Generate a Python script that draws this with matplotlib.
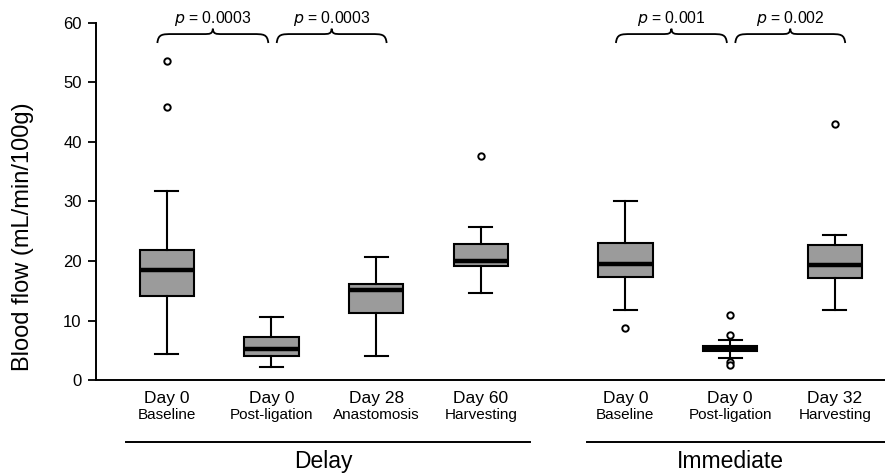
import matplotlib
matplotlib.use('Agg')
from matplotlib import pyplot as plt
from matplotlib.path import Path
from matplotlib.patches import PathPatch
import matplotlib.transforms as mtransforms

plt.rcParams['font.family'] = ['Liberation Sans', 'DejaVu Sans']

# Box statistics (mL/min/100g)
days = ['Day 0', 'Day 0', 'Day 28', 'Day 60', 'Day 0', 'Day 0', 'Day 32']
phases = ['Baseline', 'Post-ligation', 'Anastomosis', 'Harvesting',
          'Baseline', 'Post-ligation', 'Harvesting']
whislo = [4.4, 2.2, 4.0, 14.7, 11.7, 3.8, 11.8]
q1 = [14.1, 4.0, 11.2, 19.1, 17.4, 4.85, 17.2]
med = [18.5, 5.3, 15.2, 20.0, 19.5, 5.2, 19.3]
q3 = [21.8, 7.3, 16.1, 22.9, 23.1, 5.65, 22.7]
whishi = [31.7, 10.6, 20.6, 25.7, 30.0, 6.7, 24.3]
fliers = [[53.5, 45.8], [], [], [37.6], [8.8], [11.0, 7.6, 3.1, 2.6], [43.0]]
positions = [1, 2, 3, 4, 5.38, 6.38, 7.38]

groups = ['Delay', 'Immediate']
group_members = [[0, 1, 2, 3], [4, 5, 6]]

# pairwise comparisons: (box a, box b, label)
pairs = [(0, 1, '0.0003'), (1, 2, '0.0003'), (4, 5, '0.001'), (5, 6, '0.002')]

fig = plt.figure(figsize=(8.85, 4.74), dpi=100)
ax = fig.add_axes([0.108, 0.198, 0.892, 0.754])

stats = []
for i in range(len(med)):
    stats.append(dict(med=med[i], q1=q1[i], q3=q3[i], whislo=whislo[i],
                      whishi=whishi[i], fliers=fliers[i]))

ax.bxp(stats, positions=positions, widths=0.52, capwidths=0.22,
       patch_artist=True,
       boxprops=dict(facecolor='#9b9b9b', edgecolor='black', linewidth=1.5),
       medianprops=dict(color='black', linewidth=3.2, solid_capstyle='butt'),
       whiskerprops=dict(color='black', linewidth=1.5),
       capprops=dict(color='black', linewidth=1.5),
       flierprops=dict(marker='o', markerfacecolor='white', markeredgecolor='black',
                       markersize=4.6, markeredgewidth=1.4, linestyle='none'))

ax.set_xlim(0.32, 7.86)
ax.set_ylim(0, 60)
ax.set_yticks(range(0, 61, 10))
ax.tick_params(axis='y', length=6, width=1.3, labelsize=12, pad=4)
ax.tick_params(axis='x', length=0, labelbottom=False)
for s in ['top', 'right']:
    ax.spines[s].set_visible(False)
for s in ['left', 'bottom']:
    ax.spines[s].set_linewidth(1.4)

fig.text(23 / 885, 0.5, 'Blood flow (mL/min/100g)', rotation=90,
         ha='center', va='center', fontsize=17)

trans = mtransforms.blended_transform_factory(ax.transData, ax.transAxes)
for p, d, ph in zip(positions, days, phases):
    ax.text(p, -0.05, d, transform=trans, ha='center', va='center', fontsize=12.5)
    ax.text(p, -0.097, ph, transform=trans, ha='center', va='center', fontsize=11)

# group underlines and names
line_ext = [(0.615, 4.467), (5.014, 7.86)]
for g, members, (a, b) in zip(groups, group_members, line_ext):
    ax.plot([a, b], [-0.173, -0.173], transform=trans, color='black', lw=1.4,
            clip_on=False)
    xc = sum(positions[m] for m in members) / len(members)
    ax.text(xc, -0.227, g, transform=trans, ha='center', va='center', fontsize=16.5)


def brace(x0, x1, y_end=56.6, y_flat=58.1, y_tip=59.0, d=0.15, dt=0.09):
    xm = (x0 + x1) / 2
    verts = [(x0, y_end), (x0 + 0.01, y_flat), (x0 + d * 0.3, y_flat), (x0 + d, y_flat),
             (xm - dt, y_flat),
             (xm - dt * 0.3, y_flat), (xm - 0.005, y_flat), (xm, y_tip),
             (xm + 0.005, y_flat), (xm + dt * 0.3, y_flat), (xm + dt, y_flat),
             (x1 - d, y_flat),
             (x1 - d * 0.3, y_flat), (x1 - 0.01, y_flat), (x1, y_end)]
    codes = [Path.MOVETO, Path.CURVE4, Path.CURVE4, Path.CURVE4,
             Path.LINETO,
             Path.CURVE4, Path.CURVE4, Path.CURVE4,
             Path.CURVE4, Path.CURVE4, Path.CURVE4,
             Path.LINETO,
             Path.CURVE4, Path.CURVE4, Path.CURVE4]
    ax.add_patch(PathPatch(Path(verts, codes), fill=False, lw=1.3,
                           edgecolor='black', clip_on=False))
    return xm


for a, b, lab in pairs:
    x0 = positions[a] - 0.09
    x1 = positions[b] - 0.03
    if a in (1, 5):
        x0 = positions[a] + 0.05
        x1 = positions[b] + 0.1
    xm = brace(x0, x1)
    ax.text(xm, 59.9, '$p$ = ' + lab, ha='center', va='baseline', fontsize=11.3,
            clip_on=False)

fig.savefig('out.png', dpi=100)
